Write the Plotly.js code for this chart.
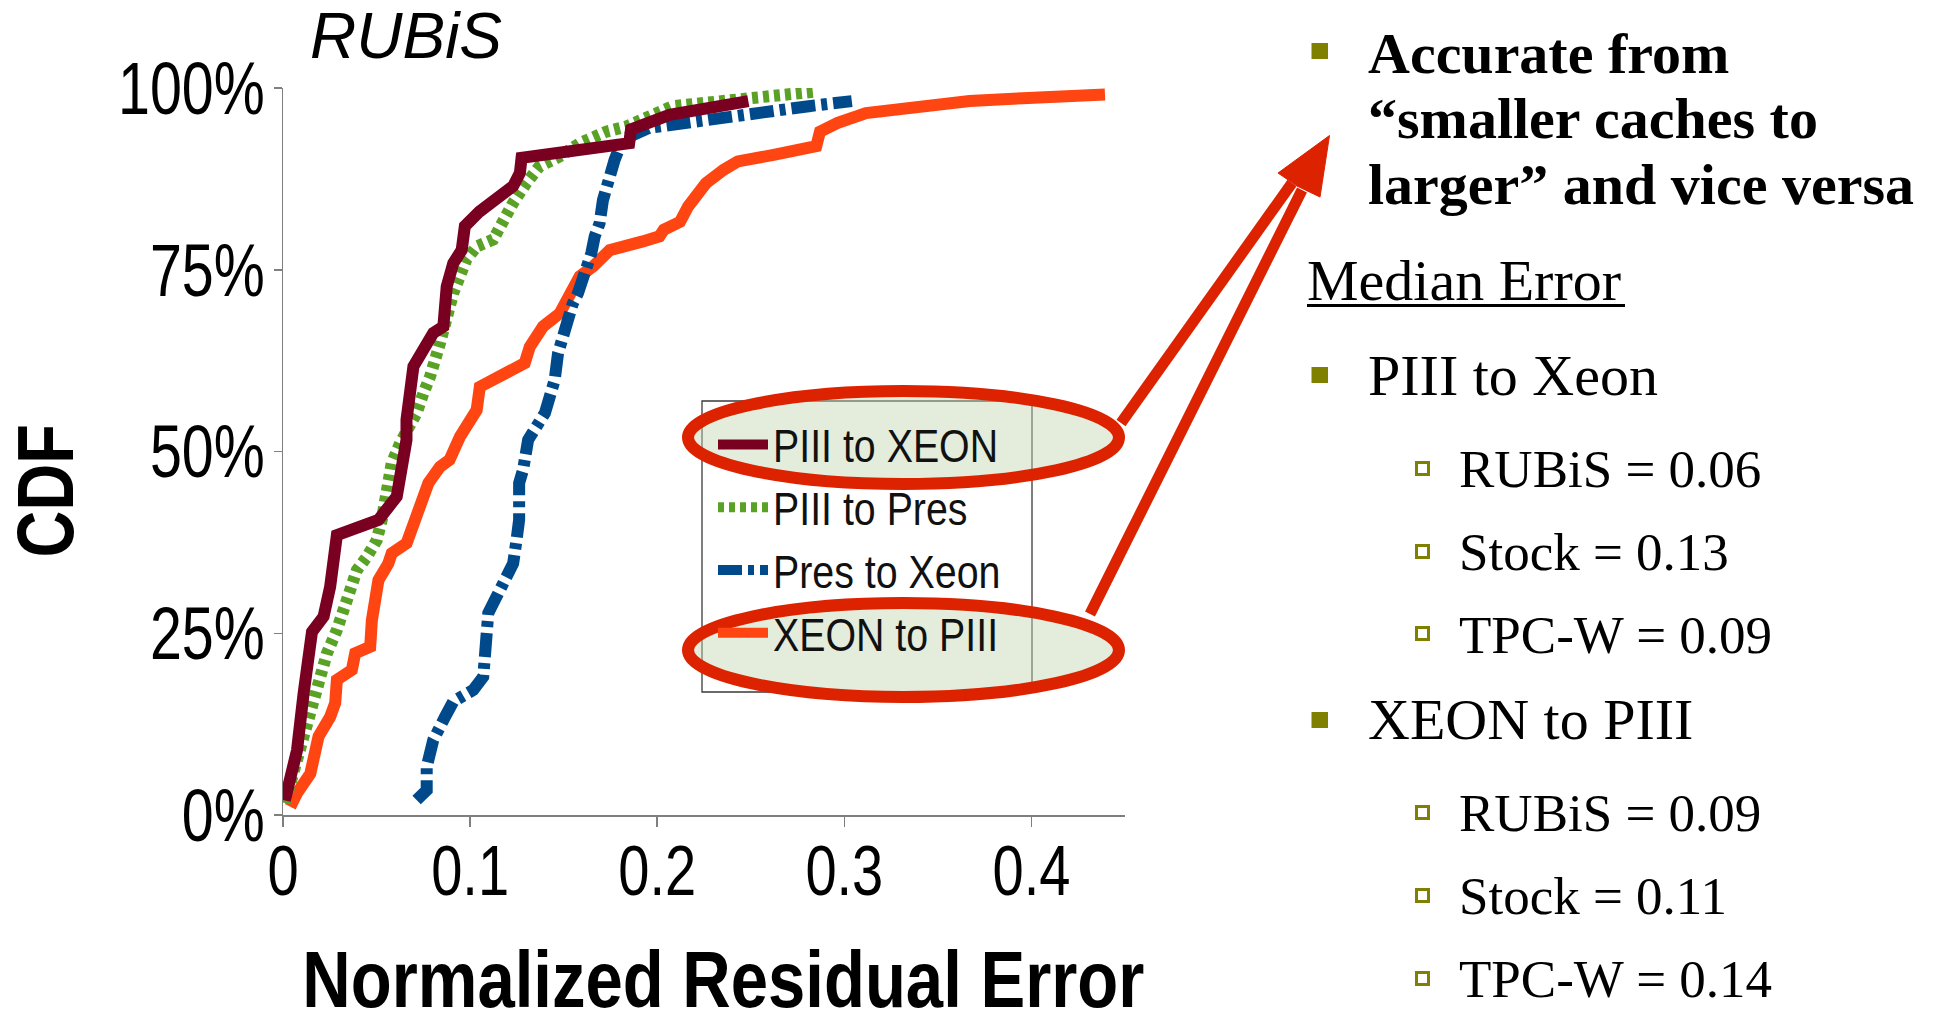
<!DOCTYPE html>
<html>
<head>
<meta charset="utf-8">
<script src="https://cdn.plot.ly/plotly-3.0.1.min.js"></script>
<style>
  html, body { margin: 0; padding: 0; background: #ffffff; }
  #chart { width: 1939px; height: 1012px; }
</style>
</head>
<body>
<div id="chart"></div>
<script>
// ---------------- DATA ----------------
const chartTitle = 'RUBiS';
const xAxisTitle = 'Normalized Residual Error';
const yAxisTitle = 'CDF';

const xTickVals = [0, 0.1, 0.2, 0.3, 0.4];
const xTickText = ['0', '0.1', '0.2', '0.3', '0.4'];
const yTickVals = [0, 0.25, 0.5, 0.75, 1];
const yTickText = ['0%', '25%', '50%', '75%', '100%'];

const seriesNames = ['PIII to XEON', 'PIII to Pres', 'Pres to Xeon', 'XEON to PIII'];

const piiiToXeonX = [0.001, 0.0075, 0.011, 0.0155, 0.0217, 0.0252, 0.0288, 0.051, 0.0608, 0.066, 0.066, 0.0697, 0.0803, 0.0857, 0.0875, 0.091, 0.0955, 0.0972, 0.105, 0.1159, 0.123, 0.1266, 0.1275, 0.185, 0.186, 0.2066, 0.2487];
const piiiToXeonY = [0.02, 0.089, 0.167, 0.252, 0.273, 0.314, 0.385, 0.406, 0.438, 0.516, 0.5435, 0.617, 0.663, 0.672, 0.727, 0.759, 0.777, 0.81, 0.83, 0.849, 0.865, 0.883, 0.904, 0.924, 0.943, 0.963, 0.982];

const piiiToPresX = [0.001, 0.0085, 0.0128, 0.0155, 0.0199, 0.0235, 0.0288, 0.0323, 0.0359, 0.0395, 0.0448, 0.0501, 0.0528, 0.0546, 0.0563, 0.0581, 0.0626, 0.0714, 0.075, 0.0786, 0.0839, 0.091, 0.098, 0.1035, 0.1123, 0.1177, 0.123, 0.130, 0.137, 0.148, 0.1586, 0.1728, 0.1835, 0.2083, 0.243, 0.284];
const piiiToPresY = [0.0165, 0.09, 0.117, 0.154, 0.195, 0.2225, 0.2546, 0.282, 0.314, 0.337, 0.355, 0.378, 0.406, 0.4335, 0.461, 0.484, 0.5115, 0.553, 0.58, 0.603, 0.649, 0.718, 0.764, 0.782, 0.7915, 0.819, 0.842, 0.869, 0.892, 0.906, 0.924, 0.940, 0.947, 0.975, 0.984, 0.995];

const presToXeonX = [0.0714, 0.0768, 0.0768, 0.0803, 0.0866, 0.091, 0.1017, 0.107, 0.1079, 0.1097, 0.1123, 0.1186, 0.123, 0.1248, 0.1262, 0.1262, 0.1283, 0.131, 0.140, 0.1426, 0.1452, 0.147, 0.1505, 0.1548, 0.1577, 0.1612, 0.1648, 0.1666, 0.1692, 0.171, 0.1719, 0.1746, 0.1772, 0.1815, 0.1954, 0.224, 0.2526, 0.281, 0.304];
const presToXeonY = [0.0206, 0.034, 0.066, 0.103, 0.135, 0.156, 0.172, 0.19, 0.218, 0.2776, 0.291, 0.323, 0.346, 0.378, 0.406, 0.4565, 0.4747, 0.516, 0.553, 0.5756, 0.5986, 0.635, 0.672, 0.703, 0.718, 0.741, 0.773, 0.796, 0.814, 0.846, 0.86, 0.878, 0.901, 0.929, 0.945, 0.956, 0.968, 0.975, 0.982];

const xeonToPiiiX = [0.0039, 0.0075, 0.0146, 0.019, 0.0252, 0.0279, 0.0288, 0.0368, 0.0386, 0.0466, 0.0475, 0.0501, 0.051, 0.0563, 0.0581, 0.0661, 0.0697, 0.0732, 0.0777, 0.0839, 0.089, 0.0946, 0.0999, 0.1035, 0.1052, 0.1159, 0.123, 0.1292, 0.1319, 0.139, 0.1479, 0.1523, 0.1586, 0.1657, 0.1719, 0.1746, 0.1923, 0.2012, 0.2035, 0.2122, 0.2165, 0.2203, 0.226, 0.2355, 0.2431, 0.2622, 0.285, 0.287, 0.2965, 0.3116, 0.3383, 0.367, 0.3954, 0.4393];
const xeonToPiiiY = [0.0114, 0.030, 0.057, 0.108, 0.135, 0.154, 0.186, 0.1995, 0.2225, 0.2316, 0.268, 0.296, 0.323, 0.346, 0.360, 0.374, 0.397, 0.424, 0.4565, 0.479, 0.4885, 0.5206, 0.539, 0.557, 0.589, 0.603, 0.612, 0.6216, 0.644, 0.672, 0.690, 0.709, 0.741, 0.7545, 0.768, 0.777, 0.789, 0.796, 0.805, 0.816, 0.837, 0.851, 0.869, 0.8876, 0.899, 0.908, 0.920, 0.940, 0.952, 0.9656, 0.975, 0.982, 0.986, 0.991];

// right-hand text panel
const panelHeading = ['Accurate from', '\u201Csmaller caches to', 'larger\u201D and vice versa'];
const medianTitle = 'Median Error';
const groupNames = ['PIII to Xeon', 'XEON to PIII'];
const workloads = ['RUBiS', 'Stock', 'TPC-W'];
const piiiToXeonMedian = [0.06, 0.13, 0.09];
const xeonToPiiiMedian = [0.09, 0.11, 0.14];

// ---------------- STYLE / LAYOUT ----------------
const W = 1939, H = 1012;
const L = 283, R = 1125, T = 88, B = 815;
const PX = p => (p - L) / (R - L);
const PY = p => (B - p) / (B - T);

const SANS = '"Liberation Sans", Arial, sans-serif';
const SERIF = '"Liberation Serif", "Times New Roman", serif';

const colors = ['#7a0022', '#5aa226', '#004a8c', '#ff4512'];
const dashes = ['solid', '6px,5px', '24px,6px,6px,6px', 'solid'];
const xs = [piiiToXeonX, piiiToPresX, presToXeonX, xeonToPiiiX];
const ys = [piiiToXeonY, piiiToPresY, presToXeonY, xeonToPiiiY];

const traces = seriesNames.map((n, i) => ({
  type: 'scatter', mode: 'lines', name: n, legendgroup: 'g' + i,
  x: xs[i], y: ys[i],
  line: { color: colors[i], width: 12, dash: dashes[i] },
  hoverinfo: 'skip'
}));
// draw order: orange, blue, green, maroon on top
const drawOrder = [3, 2, 1, 0];
const orderedTraces = drawOrder.map(i => Object.assign({}, traces[i], { legendrank: i + 1 }));

const annotations = [];
function textAt(x, baseline, text, size, family, weight) {
  annotations.push({
    xref: 'paper', yref: 'paper', x: PX(x), y: PY(baseline - 0.34 * size),
    xanchor: 'left', yanchor: 'middle', showarrow: false, text: text,
    font: { family: family, size: size, color: '#000000', weight: weight || 'normal' }
  });
}

// chart & axis titles (indices 0,1,2)
annotations.push({ xref: 'paper', yref: 'paper', x: PX(406), y: PY(58 - 0.34 * 64), xanchor: 'center', yanchor: 'middle',
  showarrow: false, text: chartTitle, font: { family: SANS, size: 64, color: '#000', style: 'italic' } });
annotations.push({ xref: 'paper', yref: 'paper', x: PX(723), y: PY(979), xanchor: 'center', yanchor: 'middle',
  showarrow: false, text: xAxisTitle, font: { family: SANS, size: 80, color: '#000', weight: 'bold' } });
annotations.push({ xref: 'paper', yref: 'paper', x: PX(45), y: PY(491), xanchor: 'center', yanchor: 'middle',
  showarrow: false, textangle: -90, text: yAxisTitle, font: { family: SANS, size: 80, color: '#000', weight: 'bold' } });

// right panel text
const headBase = [73, 138, 204];
panelHeading.forEach((t, i) => textAt(1366, headBase[i], t, 58, SERIF, 'bold'));
textAt(1305, 300, medianTitle, 58, SERIF);
const groupBase = [395, 739];
const itemBase = [[487, 570, 653], [831, 914, 997]];
const medians = [piiiToXeonMedian, xeonToPiiiMedian];
groupNames.forEach((g, gi) => {
  textAt(1366, groupBase[gi], g, 58, SERIF);
  workloads.forEach((w, wi) => {
    textAt(1457, itemBase[gi][wi], w + ' = ' + medians[gi][wi].toFixed(2), 53, SERIF);
  });
});

const shapes = [];
// legend box
shapes.push({ type: 'rect', xref: 'paper', yref: 'paper', x0: PX(702), x1: PX(1032), y0: PY(692), y1: PY(401),
  line: { color: '#3a3a3a', width: 1.3 }, fillcolor: 'rgba(0,0,0,0)', layer: 'above' });
// highlight ellipses
[[391, 484], [603, 697]].forEach(([a, b]) => {
  shapes.push({ type: 'circle', xref: 'paper', yref: 'paper', x0: PX(688), x1: PX(1119), y0: PY(b), y1: PY(a),
    line: { color: '#dd2200', width: 12 }, fillcolor: 'rgba(196,212,176,0.45)', layer: 'above' });
});
// arrows
shapes.push({ type: 'line', xref: 'paper', yref: 'paper', x0: PX(1121), y0: PY(423), x1: PX(1292), y1: PY(183),
  line: { color: '#dd2200', width: 11 }, layer: 'above' });
shapes.push({ type: 'line', xref: 'paper', yref: 'paper', x0: PX(1090), y0: PY(614), x1: PX(1302), y1: PY(190),
  line: { color: '#dd2200', width: 11 }, layer: 'above' });
shapes.push({ type: 'path', xref: 'paper', yref: 'paper',
  path: `M${PX(1329.5)},${PY(135.5)} L${PX(1278)},${PY(173)} L${PX(1297)},${PY(186)} L${PX(1320)},${PY(197)} Z`,
  line: { color: '#dd2200', width: 1 }, fillcolor: '#dd2200', layer: 'above' });
// underline under "Median Error"
shapes.push({ type: 'line', xref: 'paper', yref: 'paper', x0: PX(1307), y0: PY(305.5), x1: PX(1625), y1: PY(305.5),
  line: { color: '#000', width: 3 }, layer: 'above' });
// bullets
const OLIVE = '#808000';
[[43, 59], [367, 383], [712, 728]].forEach(([a, b]) => {
  shapes.push({ type: 'rect', xref: 'paper', yref: 'paper', x0: PX(1311.5), x1: PX(1328), y0: PY(b), y1: PY(a),
    line: { width: 0 }, fillcolor: OLIVE, layer: 'above' });
});
[462, 545, 627, 806, 889, 972].forEach(a => {
  shapes.push({ type: 'rect', xref: 'paper', yref: 'paper', x0: PX(1416.5), x1: PX(1428.5), y0: PY(a + 12.5), y1: PY(a + 0.5),
    line: { color: OLIVE, width: 3 }, fillcolor: 'rgba(0,0,0,0)', layer: 'above' });
});

const axisCommon = {
  showgrid: false, zeroline: false, showline: true, linecolor: '#7f7f7f', linewidth: 1.5,
  ticks: 'outside', tickcolor: '#7f7f7f', tickwidth: 1.5, fixedrange: true
};

const layout = {
  width: W, height: H,
  margin: { l: L, r: W - R, t: T, b: H - B, pad: 0 },
  paper_bgcolor: '#ffffff', plot_bgcolor: '#ffffff',
  showlegend: true,
  legend: {
    x: PX(713), y: PY(408), xanchor: 'left', yanchor: 'top',
    bgcolor: 'rgba(0,0,0,0)', borderwidth: 0,
    font: { family: SANS, size: 46, color: '#111' },
    tracegroupgap: 6, itemwidth: 50, traceorder: 'normal'
  },
  xaxis: Object.assign({}, axisCommon, {
    range: [0, 0.45], tickvals: xTickVals, ticktext: xTickText, ticklen: 10, ticklabelstandoff: -16,
    tickfont: { family: SANS, size: 70, color: '#000' }
  }),
  yaxis: Object.assign({}, axisCommon, {
    range: [0, 1], tickvals: yTickVals, ticktext: yTickText, ticklen: 8, ticklabelstandoff: -6,
    tickfont: { family: SANS, size: 74, color: '#000' }
  }),
  annotations: annotations,
  shapes: shapes
};

// the reference uses a condensed sans face; compress those glyphs horizontally
function squeeze(selector, factor) {
  document.querySelectorAll(selector).forEach(t => {
    const w = t.getComputedTextLength();
    if (w > 0) {
      t.setAttribute('textLength', (w * factor).toFixed(1));
      t.setAttribute('lengthAdjust', 'spacingAndGlyphs');
    }
  });
}

Plotly.newPlot('chart', orderedTraces, layout, { displayModeBar: false, staticPlot: true }).then(() => {
  squeeze('#chart .ytick text', 0.775);
  squeeze('#chart .xtick text', 0.8);
  squeeze('#chart .legendtext', 0.855);
  squeeze('#chart g.annotation[data-index="1"] text', 0.838);
  squeeze('#chart g.annotation[data-index="2"] text', 0.81);
});
</script>
</body>
</html>
